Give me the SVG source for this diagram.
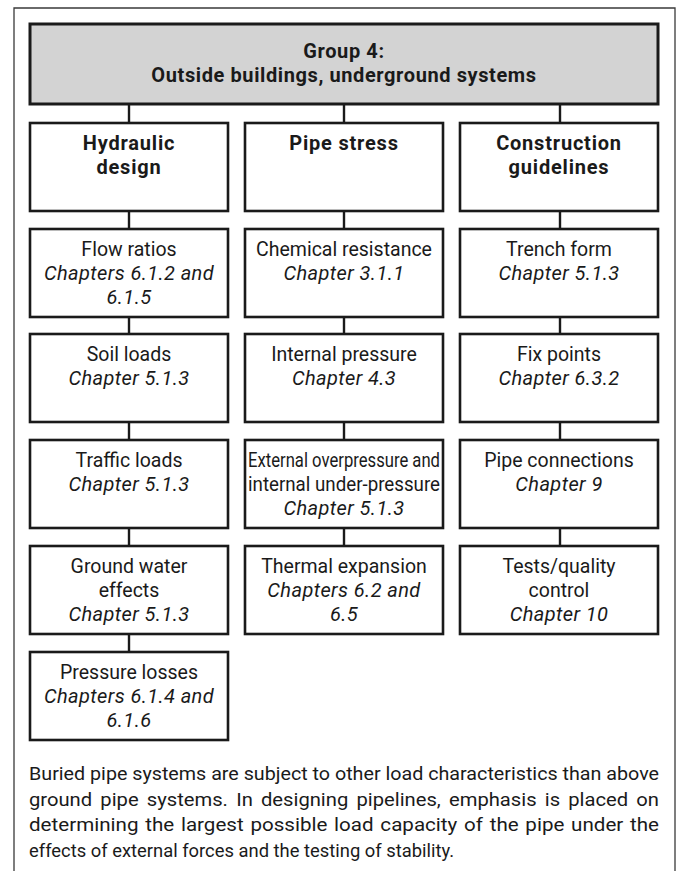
<svg xmlns="http://www.w3.org/2000/svg" width="680" height="871" viewBox="0 0 680 871">
<style>
text{font-family:Roboto,"Liberation Sans",sans-serif;fill:#1a1a1a;text-anchor:middle}
.t{font-weight:bold;font-size:20px;letter-spacing:0.6px}
.h{font-weight:bold;font-size:20px;letter-spacing:0.8px}
.b{font-size:19.5px}
.i{font-size:20px;font-style:italic;letter-spacing:0.4px}
.p{font-size:19px;text-anchor:start}
.box{fill:#fff;stroke:#1a1a1a;stroke-width:2.6}
.con line{stroke:#1a1a1a;stroke-width:2.4}
</style>
<rect width="680" height="871" fill="#fff"/>
<path d="M14,875 V8 H675 V875" fill="none" stroke="#3a3a3a" stroke-width="1.3"/>
<g id="connectors" class="con">
<line x1="129" y1="104" x2="129" y2="123"/><line x1="344" y1="104" x2="344" y2="123"/><line x1="560" y1="104" x2="560" y2="123"/>
<line x1="129" y1="211" x2="129" y2="229"/><line x1="129" y1="317" x2="129" y2="334"/><line x1="129" y1="422" x2="129" y2="440"/><line x1="129" y1="528" x2="129" y2="546"/><line x1="129" y1="634" x2="129" y2="652"/>
<line x1="344" y1="211" x2="344" y2="229"/><line x1="344" y1="317" x2="344" y2="334"/><line x1="344" y1="422" x2="344" y2="440"/><line x1="344" y1="528" x2="344" y2="546"/>
<line x1="560" y1="211" x2="560" y2="229"/><line x1="560" y1="317" x2="560" y2="334"/><line x1="560" y1="422" x2="560" y2="440"/><line x1="560" y1="528" x2="560" y2="546"/>
</g>
<g id="header"><rect x="30" y="24" width="628" height="80" fill="#d3d3d3" stroke="#1a1a1a" stroke-width="3"/>
<text class="t" x="344" y="58">Group 4:</text><text class="t" x="344" y="82">Outside buildings, underground systems</text></g>
<g id="hydraulic"><rect class="box" x="30" y="123" width="198" height="88"/><text class="h" x="129" y="150">Hydraulic</text><text class="h" x="129" y="174">design</text></g>
<g id="flow"><rect class="box" x="30" y="229" width="198" height="88"/><text class="b" x="129" y="256">Flow ratios</text><text class="i" x="129" y="280">Chapters 6.1.2 and</text><text class="i" x="129" y="304">6.1.5</text></g>
<g id="soil"><rect class="box" x="30" y="334" width="198" height="88"/><text class="b" x="129" y="361">Soil loads</text><text class="i" x="129" y="385">Chapter 5.1.3</text></g>
<g id="traffic"><rect class="box" x="30" y="440" width="198" height="88"/><text class="b" x="129" y="467">Traffic loads</text><text class="i" x="129" y="491">Chapter 5.1.3</text></g>
<g id="groundwater"><rect class="box" x="30" y="546" width="198" height="88"/><text class="b" x="129" y="573">Ground water</text><text class="b" x="129" y="597">effects</text><text class="i" x="129" y="621">Chapter 5.1.3</text></g>
<g id="pressurelosses"><rect class="box" x="30" y="652" width="198" height="88"/><text class="b" x="129" y="679">Pressure losses</text><text class="i" x="129" y="703">Chapters 6.1.4 and</text><text class="i" x="129" y="727">6.1.6</text></g>
<g id="pipestress"><rect class="box" x="245" y="123" width="198" height="88"/><text class="h" x="344" y="150">Pipe stress</text></g>
<g id="chemical"><rect class="box" x="245" y="229" width="198" height="88"/><text class="b" x="344" y="256">Chemical resistance</text><text class="i" x="344" y="280">Chapter 3.1.1</text></g>
<g id="internal"><rect class="box" x="245" y="334" width="198" height="88"/><text class="b" x="344" y="361">Internal pressure</text><text class="i" x="344" y="385">Chapter 4.3</text></g>
<g id="external"><rect class="box" x="245" y="440" width="198" height="88"/><text class="b" x="344" y="467" textLength="192" lengthAdjust="spacingAndGlyphs">External overpressure and</text><text class="b" x="344" y="491" textLength="192" lengthAdjust="spacingAndGlyphs">internal under-pressure</text><text class="i" x="344" y="515">Chapter 5.1.3</text></g>
<g id="thermal"><rect class="box" x="245" y="546" width="198" height="88"/><text class="b" x="344" y="573">Thermal expansion</text><text class="i" x="344" y="597">Chapters 6.2 and</text><text class="i" x="344" y="621">6.5</text></g>
<g id="construction"><rect class="box" x="460" y="123" width="198" height="88"/><text class="h" x="559" y="150">Construction</text><text class="h" x="559" y="174">guidelines</text></g>
<g id="trench"><rect class="box" x="460" y="229" width="198" height="88"/><text class="b" x="559" y="256">Trench form</text><text class="i" x="559" y="280">Chapter 5.1.3</text></g>
<g id="fixpoints"><rect class="box" x="460" y="334" width="198" height="88"/><text class="b" x="559" y="361">Fix points</text><text class="i" x="559" y="385">Chapter 6.3.2</text></g>
<g id="connections"><rect class="box" x="460" y="440" width="198" height="88"/><text class="b" x="559" y="467">Pipe connections</text><text class="i" x="559" y="491">Chapter 9</text></g>
<g id="tests"><rect class="box" x="460" y="546" width="198" height="88"/><text class="b" x="559" y="573">Tests/quality</text><text class="b" x="559" y="597">control</text><text class="i" x="559" y="621">Chapter 10</text></g>
<g id="note">
<text class="p" x="29" y="780" textLength="630" lengthAdjust="spacingAndGlyphs">Buried pipe systems are subject to other load characteristics than above</text>
<text class="p" x="29" y="806" textLength="630" lengthAdjust="spacingAndGlyphs" word-spacing="3">ground pipe systems. In designing pipelines, emphasis is placed on</text>
<text class="p" x="29" y="831" textLength="630" lengthAdjust="spacingAndGlyphs" word-spacing="1.5">determining the largest possible load capacity of the pipe under the</text>
<text class="p" x="29" y="857" textLength="425" lengthAdjust="spacingAndGlyphs">effects of external forces and the testing of stability.</text>
</g>
</svg>
